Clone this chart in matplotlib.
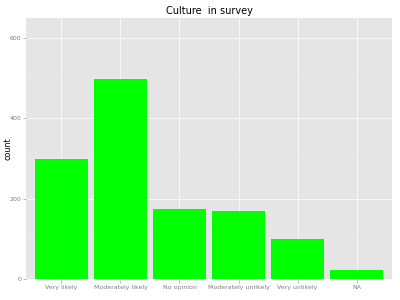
import matplotlib
matplotlib.use("Agg")
import matplotlib.pyplot as plt
from matplotlib.ticker import MultipleLocator

categories = ["Very likely", "Moderately likely", "No opinion",
              "Moderately unlikely", "Very unlikely", "NA"]
counts = [298, 498, 174, 170, 100, 22]

fig = plt.figure(figsize=(4, 3), dpi=100)
ax = fig.add_axes([0.065, 0.067, 0.915, 0.874])
ax.set_facecolor("#E5E5E5")

pos = list(range(1, len(categories) + 1))
ax.bar(pos, counts, width=0.9, color="#00FF00", zorder=3)

ax.set_xlim(0.4, 6.6)
ax.set_ylim(-2, 650)
ax.set_xticks(pos)
ax.set_xticklabels(categories)
ax.set_yticks([0, 200, 400, 600])
ax.yaxis.set_minor_locator(MultipleLocator(100))

ax.grid(which="major", color="white", linewidth=0.5, zorder=0)
ax.grid(which="minor", axis="y", color="#F0F0F0", linewidth=0.3, zorder=0)
ax.set_axisbelow(True)

for s in ax.spines.values():
    s.set_visible(False)

ax.tick_params(axis="both", which="major", labelsize=4.5, colors="#7F7F7F",
               length=2, width=0.4, pad=1.5)
ax.tick_params(axis="both", which="minor", length=0)
ax.tick_params(axis="x", pad=2)

ax.set_ylabel("count", fontsize=5.8)
ax.yaxis.set_label_coords(-0.037, 0.5)
ax.set_title("Culture  in survey", fontsize=7, pad=3)

fig.savefig("out.png", dpi=100)
